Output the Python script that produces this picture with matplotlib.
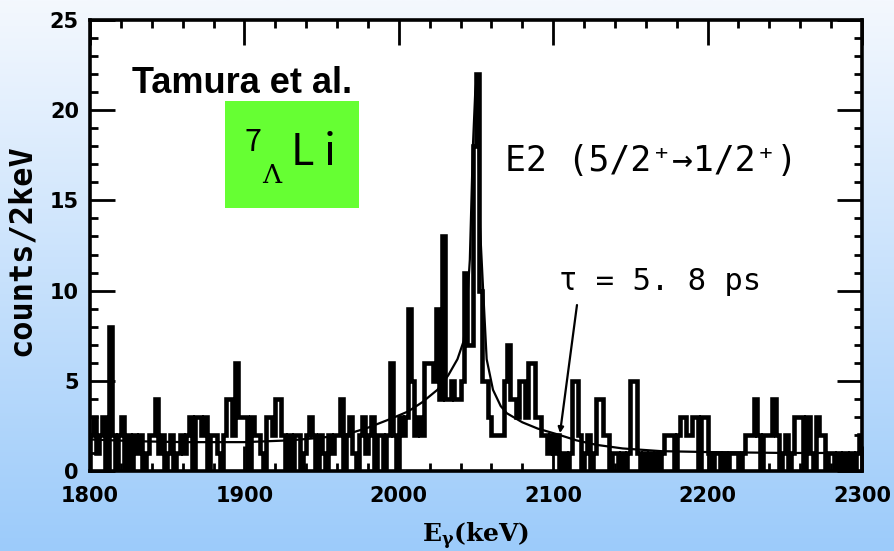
import matplotlib
matplotlib.use("Agg")
import matplotlib.pyplot as plt
import numpy as np
from matplotlib.patches import Rectangle
from matplotlib.ticker import MultipleLocator

# counts per 2 keV bin, 1800 -> 2300 keV (250 bins)
E_START = 1800
BIN_KEV = 2
counts = [
    2, 3, 1, 2, 3, 0, 8, 2, 0, 2,      # 1800
    3, 0, 2, 0, 2, 1, 2, 0, 1, 2,      # 1820
    2, 4, 1, 2, 0, 1, 2, 0, 1, 2,      # 1840
    1, 2, 3, 0, 3, 3, 2, 3, 0, 2,      # 1860
    2, 1, 0, 2, 4, 4, 2, 6, 3, 3,      # 1880
    3, 0, 3, 2, 2, 1, 0, 3, 3, 2,      # 1900
    4, 4, 2, 0, 2, 0, 2, 2, 0, 1,      # 1920
    2, 3, 2, 0, 2, 1, 0, 2, 1, 2,      # 1940
    2, 4, 0, 2, 3, 1, 0, 2, 3, 1,      # 1960
    2, 3, 0, 2, 2, 0, 2, 6, 2, 0,      # 1980
    3, 2, 3, 9, 5, 2, 3, 2, 6, 6,      # 2000
    6, 5, 9, 4, 13, 4, 4, 5, 4, 4,     # 2020
    5, 11, 7, 7, 18, 22, 10, 5, 5, 3,  # 2040
    2, 2, 2, 2, 5, 7, 4, 4, 3, 5,      # 2060
    5, 3, 6, 6, 3, 3, 2, 2, 1, 2,      # 2080
    1, 2, 0, 1, 0, 1, 5, 5, 2, 0,      # 2100
    1, 2, 0, 1, 4, 4, 2, 2, 0, 1,      # 2120
    1, 0, 1, 0, 1, 5, 5, 1, 0, 1,      # 2140
    0, 1, 0, 1, 0, 1, 2, 2, 2, 0,      # 2160
    2, 3, 3, 2, 2, 3, 3, 0, 3, 3,      # 2180
    1, 0, 1, 1, 0, 1, 0, 1, 1, 1,      # 2200
    0, 1, 2, 2, 2, 4, 2, 0, 2, 2,      # 2220
    2, 4, 2, 0, 1, 2, 0, 1, 3, 3,      # 2240
    3, 0, 3, 1, 0, 3, 2, 2, 0, 1,      # 2260
    1, 0, 1, 0, 1, 0, 1, 0, 1, 2,      # 2280
]

# fitted line shape
fit_energy = [1800, 1830, 1860, 1900, 1930, 1950, 1965, 1980, 1995, 2006,
              2015, 2025, 2032, 2038, 2042, 2044, 2046, 2048, 2049.5, 2050.5,
              2051.5, 2052.6, 2054.7, 2056.9, 2061, 2066, 2070, 2080, 2090,
              2104, 2115, 2128, 2145, 2170, 2200, 2250, 2300]
fit_counts = [1.75, 1.65, 1.6, 1.6, 1.7, 1.85, 2.0, 2.4, 2.9, 3.3,
              3.8, 4.5, 5.3, 6.2, 7.2, 9.0, 11.7, 18.0, 21.0, 21.8,
              19.0, 13.5, 9.9, 6.2, 4.5, 3.6, 3.2, 2.7, 2.35,
              2.0, 1.7, 1.45, 1.25, 1.1, 1.05, 1.0, 1.0]

x_ticks = [1800, 1900, 2000, 2100, 2200, 2300]
y_ticks = [0, 5, 10, 15, 20, 25]

edges = E_START + BIN_KEV * np.arange(len(counts) + 1)

plt.rcParams["mathtext.fontset"] = "dejavuserif"

fig = plt.figure(figsize=(8.95, 5.51), dpi=100)

# light blue vertical gradient behind everything
bg = fig.add_axes([0, 0, 1, 1], zorder=-10)
top = np.array([244, 248, 254]) / 255.0
bottom = np.array([156, 203, 250]) / 255.0
t = np.linspace(0, 1, 256)[:, None]
grad = top[None, :] * (1 - t) + bottom[None, :] * t
bg.imshow(grad[:, None, :], aspect="auto", extent=[0, 1, 0, 1])
bg.set_axis_off()

ax = fig.add_axes([90 / 895, 1 - 471 / 551, (862 - 90) / 895, (471 - 20) / 551])
ax.set_facecolor("white")

ax.stairs(counts, edges, color="black", linewidth=3.3)
ax.plot(fit_energy, fit_counts, color="black", linewidth=1.6)

ax.set_xlim(1800, 2300)
ax.set_ylim(0, 25)
ax.set_xticks(x_ticks)
ax.set_yticks(y_ticks)
ax.xaxis.set_minor_locator(MultipleLocator(20))
ax.yaxis.set_minor_locator(MultipleLocator(1))
ax.tick_params(which="both", direction="in", top=True, right=True, width=2.0)
ax.tick_params(which="major", length=18, labelsize=15, pad=8)
ax.tick_params(axis="x", which="major", pad=11)
ax.tick_params(which="minor", length=6)
for lab in ax.get_xticklabels() + ax.get_yticklabels():
    lab.set_fontweight("bold")
for sp in ax.spines.values():
    sp.set_linewidth(2.6)

ax.set_xlabel(r"$\mathbf{E_{\gamma}}$(keV)", fontsize=18, fontweight="bold",
              family="DejaVu Serif", labelpad=10)
fig.text(21 / 895, 1 - 250 / 551, "counts/2keV", rotation=90, fontsize=23,
         fontweight="bold", family="DejaVu Sans Mono", ha="center", va="center")

# annotations
ax.text(1898.4, 21.5, "Tamura et al.", fontsize=26, fontweight="bold",
        family="Liberation Sans", ha="center", va="center", zorder=6)
ax.add_patch(Rectangle((1887.4, 14.6), 86.8, 5.9, facecolor="#66ff33",
                       edgecolor="none", zorder=5))
jp = ["Noto Sans CJK JP", "DejaVu Sans"]
mono = ["DejaVu Sans Mono", "DejaVu Sans"]
ax.text(1905.6, 18.2, "7", fontsize=22, family=jp, ha="center", va="center", zorder=6)
ax.text(1917.5, 16.4, "Λ", fontsize=19, family="DejaVu Serif", ha="center", va="center", zorder=6)
ax.text(1944.5, 17.6, "L i", fontsize=31, family=jp, ha="center", va="center", zorder=6)

ax.text(2068.8, 17.2, "E2 (5/2⁺→1/2⁺)", fontsize=25, family=mono,
        ha="left", va="center", zorder=6)
ax.text(2104, 10.5, "τ = 5. 8 ps", fontsize=22, family=mono,
        ha="left", va="center", zorder=6)
ax.annotate("", xy=(2104.4, 2.1), xytext=(2115.4, 9.2),
            arrowprops=dict(arrowstyle="-|>", color="black", lw=1.6,
                            mutation_scale=8, shrinkA=0, shrinkB=0),
            zorder=6)

fig.savefig("out.png", dpi=100)
